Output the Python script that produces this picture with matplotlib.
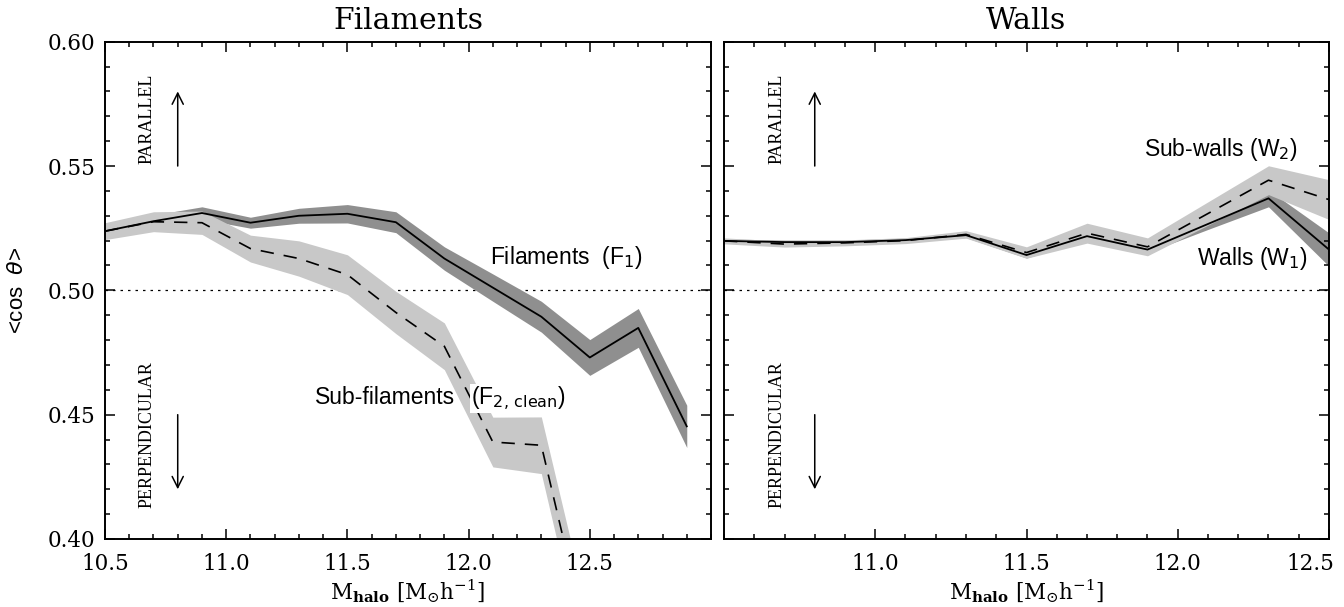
import numpy as np
from matplotlib import pyplot as plt
from matplotlib import transforms

# Filaments: spine (F1) and sub-filament (F2, clean) alignment
f_mass = [10.5, 10.7, 10.9, 11.1, 11.3, 11.5, 11.7, 11.9, 12.1, 12.3, 12.5, 12.7, 12.9]
f1_mean = [0.5238, 0.5278, 0.5311, 0.5272, 0.5300, 0.5308, 0.5274, 0.5128, 0.5011, 0.4894, 0.4730, 0.4849, 0.4453]
f1_err = [0.0025, 0.0025, 0.0025, 0.0022, 0.0030, 0.0037, 0.0042, 0.0047, 0.0055, 0.0062, 0.0072, 0.0078, 0.0085]

f2_mass = [10.5, 10.7, 10.9, 11.1, 11.3, 11.5, 11.7, 11.9, 12.1, 12.3, 12.5]
f2_mean = [0.5238, 0.5276, 0.5272, 0.5168, 0.5128, 0.5063, 0.4911, 0.4775, 0.4390, 0.4377, 0.3550]
f2_err = [0.0034, 0.0040, 0.0047, 0.0054, 0.0071, 0.0080, 0.0085, 0.0094, 0.0100, 0.0114, 0.0120]

# Walls (W1) and sub-walls (W2)
w_mass = [10.5, 10.7, 10.9, 11.1, 11.3, 11.5, 11.7, 11.9, 12.1, 12.3, 12.5]
w1_mean = [0.5199, 0.5194, 0.5194, 0.5202, 0.5222, 0.5142, 0.5218, 0.5164, 0.5267, 0.5370, 0.5164]
w1_err = [0.0008, 0.0008, 0.0008, 0.0008, 0.0010, 0.0012, 0.0014, 0.0012, 0.0022, 0.0034, 0.0067]
w2_mean = [0.5199, 0.5186, 0.5191, 0.5200, 0.5225, 0.5152, 0.5230, 0.5175, 0.5309, 0.5443, 0.5365]
w2_err = [0.0012, 0.0012, 0.0012, 0.0012, 0.0015, 0.0023, 0.0040, 0.0036, 0.0047, 0.0058, 0.0080]

left_ticks = [10.5, 11.0, 11.5, 12.0, 12.5]
right_ticks = [11.0, 11.5, 12.0, 12.5]
y_ticks = [0.40, 0.45, 0.50, 0.55, 0.60]

dark = '#8f8f8f'
light = '#c8c8c8'
serif = 'DejaVu Serif'
sans = 'Liberation Sans'

plt.rcParams['mathtext.fontset'] = 'dejavuserif'

fig = plt.figure(figsize=(13.44, 6.07), dpi=100)
ax1 = fig.add_axes([105 / 1344, 1 - 539 / 607, 606 / 1344, 497.3 / 607])
ax2 = fig.add_axes([724 / 1344, 1 - 539 / 607, 605 / 1344, 497.3 / 607])


def band(ax, x, m, e, color, z):
    m = np.array(m)
    e = np.array(e)
    ax.fill_between(x, m - e, m + e, color=color, lw=0, zorder=z)


def style(ax, xmax, ticks):
    ax.set_xlim(10.5, xmax)
    ax.set_ylim(0.40, 0.60)
    ax.set_xticks(ticks)
    ax.set_xticks(np.arange(10.5, xmax + 0.001, 0.1), minor=True)
    ax.set_yticks(y_ticks)
    ax.set_yticks(np.arange(0.40, 0.6001, 0.01), minor=True)
    ax.set_xticklabels(['%.1f' % t for t in ticks], family=serif, fontsize=15.5)
    ax.set_yticklabels(['%.2f' % t for t in y_ticks], family=serif, fontsize=15.5)
    ax.tick_params(which='both', direction='in', top=True, right=True, width=1.1)
    ax.tick_params(which='major', length=7.5)
    ax.tick_params(which='minor', length=3.8)
    ax.tick_params(axis='x', pad=10)
    ax.tick_params(axis='y', pad=7)
    for s in ax.spines.values():
        s.set_linewidth(1.4)
    ax.axhline(0.5, color='k', lw=0.9, ls=(0, (2, 4)), zorder=0)
    # arrows and orientation labels
    for y0, y1 in [(0.55, 0.58), (0.45, 0.42)]:
        ax.annotate('', xy=(10.8, y1), xytext=(10.8, y0),
                    arrowprops=dict(arrowstyle='->', lw=1.1, mutation_scale=20,
                                    shrinkA=0, shrinkB=0))
    ax.text(10.674, 0.569, 'PARALLEL', rotation=90, ha='center', va='center',
            family='Liberation Serif', fontsize=13)
    ax.text(10.674, 0.4421, 'PERPENDICULAR', rotation=90, ha='center', va='center',
            family='Liberation Serif', fontsize=13)
    ax.text(0.5, -0.1207, r'$\mathrm{M}_{\mathbf{halo}}\ \mathrm{[M_{\odot}h^{-1}]}$',
            transform=ax.transAxes, ha='center', va='baseline', fontsize=15.5)


# Left panel
band(ax1, f_mass, f1_mean, f1_err, dark, 1)
band(ax1, f2_mass, f2_mean, f2_err, light, 2)
ax1.plot(f_mass, f1_mean, color='k', lw=1.3, zorder=3)
ax1.plot(f2_mass, f2_mean, color='k', lw=1.2, dashes=(8, 6), zorder=3)
style(ax1, 13.0, left_ticks)
ax1.text(0.5, 1.025, 'Filaments', transform=ax1.transAxes, ha='center', va='baseline',
         family=serif, fontsize=21.5)
ax1.text(12.09, 0.5105, r'Filaments  (F$_1$)', family=sans, fontsize=16.5,
         ha='left', va='baseline', math_fontfamily='dejavusans')
ax1.text(11.368, 0.4542, 'Sub-filaments', family=sans, fontsize=16.5,
         ha='left', va='baseline', zorder=4)
ax1.text(12.01, 0.4542, r'(F$_{2,\,\mathrm{clean}}$)', family=sans, fontsize=16.5,
         ha='left', va='baseline', math_fontfamily='dejavusans', zorder=4,
         bbox=dict(facecolor='white', edgecolor='none', pad=0.5))

# Right panel
band(ax2, w_mass, w1_mean, w1_err, dark, 1)
band(ax2, w_mass, w2_mean, w2_err, light, 2)
ax2.plot(w_mass, w1_mean, color='k', lw=1.3, zorder=3)
ax2.plot(w_mass, w2_mean, color='k', lw=1.2, dashes=(8, 6), zorder=3)
style(ax2, 12.5, right_ticks)
ax2.set_yticklabels([])
ax2.text(0.5, 1.025, 'Walls', transform=ax2.transAxes, ha='center', va='baseline',
         family=serif, fontsize=21.5)
ax2.text(11.888, 0.554, r'Sub-walls (W$_2$)', family=sans, fontsize=16.5,
         ha='left', va='baseline', math_fontfamily='dejavusans')
ax2.text(12.063, 0.5102, r'Walls (W$_1$)', family=sans, fontsize=16.5,
         ha='left', va='baseline', math_fontfamily='dejavusans')

# last label on the right panel sits inside the figure edge
last = ax2.get_xticklabels()[-1]
last.set_horizontalalignment('right')
last.set_transform(last.get_transform() + transforms.ScaledTranslation(0.05, 0, fig.dpi_scale_trans))

fig.text(18 / 1344, 1 - 290.4 / 607, r'<cos  $\theta$>', rotation=90, ha='center', va='center',
         family=sans, fontsize=16, math_fontfamily='dejavusans')

fig.savefig('out.png', dpi=100)
